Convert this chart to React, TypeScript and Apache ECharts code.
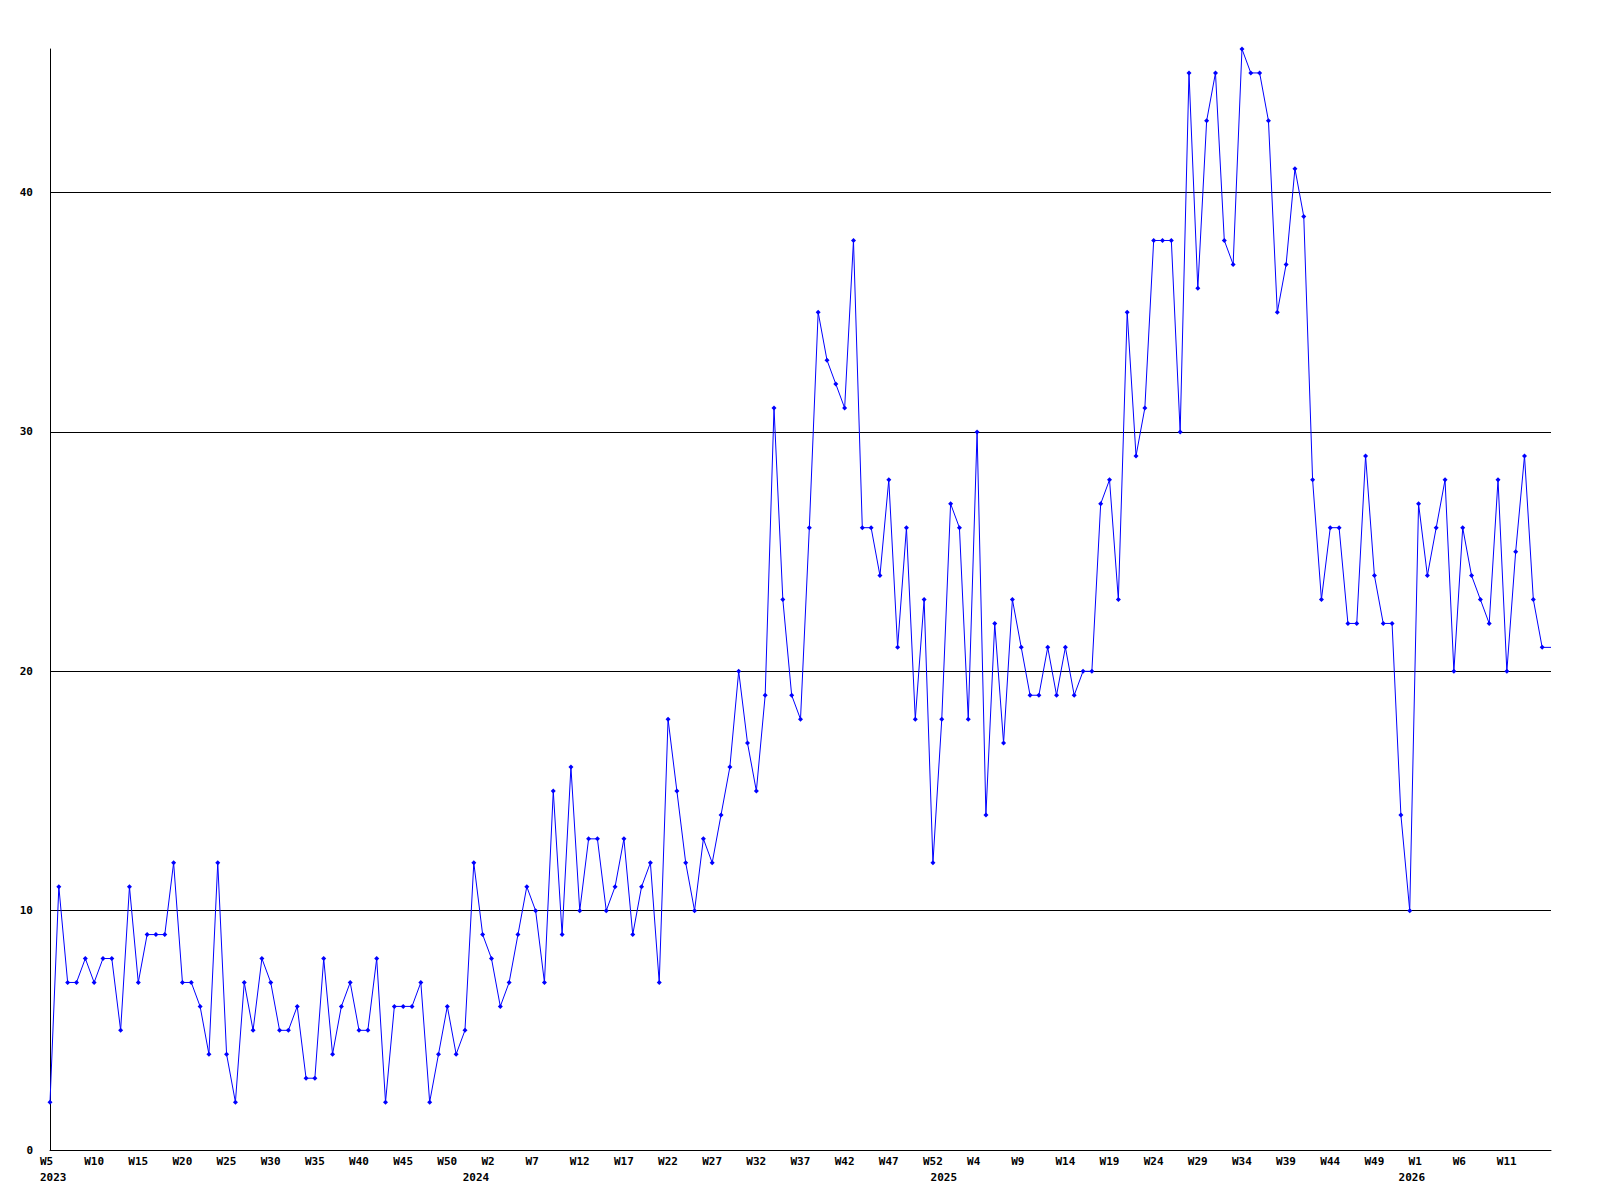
import React, { useEffect, useRef } from "react";
import * as echarts from "echarts";

// Weekly values, per year (week numbers run W1..W53 in this source)
const YEARS = [2023, 2024, 2025, 2026];
const FIRST_WEEK = [5, 1, 1, 1];

const VALUES_2023 = [
  2, 11, 7, 7, 8, 7, 8, 8, 5, 11, 7, 9, 9, 9, 12, 7, 7, 6, 4, 12, 4, 2, 7, 5, 8,
  7, 5, 5, 6, 3, 3, 8, 4, 6, 7, 5, 5, 8, 2, 6, 6, 6, 7, 2, 4, 6, 4, 5, 12,
];
const VALUES_2024 = [
  9, 8, 6, 7, 9, 11, 10, 7, 15, 9, 16, 10, 13, 13, 10, 11, 13, 9, 11, 12, 7, 18,
  15, 12, 10, 13, 12, 14, 16, 20, 17, 15, 19, 31, 23, 19, 18, 26, 35, 33, 32, 31,
  38, 26, 26, 24, 28, 21, 26, 18, 23, 12, 18,
];
const VALUES_2025 = [
  27, 26, 18, 30, 14, 22, 17, 23, 21, 19, 19, 21, 19, 21, 19, 20, 20, 27, 28, 23,
  35, 29, 31, 38, 38, 38, 30, 45, 36, 43, 45, 38, 37, 46, 45, 45, 43, 35, 37, 41,
  39, 28, 23, 26, 26, 22, 22, 29, 24, 22, 22, 14, 10,
];
const VALUES_2026 = [27, 24, 26, 28, 20, 26, 24, 23, 22, 28, 20, 25, 29, 23, 21, 21];

const GRID_LINES = [10, 20, 30, 40];
const Y_MAX = 46;
const Y_STEP = 10;
const LABEL_EVERY = 5;

const FONT = "'DejaVu Sans Mono', 'Liberation Mono', monospace";

export default function App() {
  const ref = useRef<HTMLDivElement>(null);

  useEffect(() => {
    document.body.style.margin = "0";
    const chart = echarts.init(ref.current!, null, { renderer: "svg" });

    const yearly = [VALUES_2023, VALUES_2024, VALUES_2025, VALUES_2026];
    const categories: string[] = [];
    const values: any[] = [];
    yearly.forEach((arr, yi) =>
      arr.forEach((v, i) => {
        categories.push(`W${FIRST_WEEK[yi] + i}|${YEARS[yi]}`);
        values.push(v);
      })
    );
    // last (current, partial) week is drawn without a marker
    const lastIdx = values.length - 1;
    values[lastIdx] = { value: values[lastIdx], symbol: "none" };

    const labelFont = {
      fontFamily: FONT,
      fontWeight: "bold",
      fontSize: 11,
      color: "#000",
    };

    chart.setOption({
      animation: false,
      backgroundColor: "#ffffff",
      grid: {
        left: 50,
        right: 49,
        top: 49,
        bottom: 50,
        containLabel: false,
        outerBoundsMode: "none",
      },
      xAxis: [
        {
          type: "category",
          data: categories,
          boundaryGap: false,
          position: "bottom",
          axisLine: { show: true, lineStyle: { color: "#000", width: 1 } },
          axisTick: { show: false },
          splitLine: { show: false },
          axisLabel: {
            ...labelFont,
            interval: LABEL_EVERY - 1,
            align: "left",
            padding: [0, 0, 0, -10],
            margin: 6,
            formatter: (val: string, idx: number) =>
              idx === lastIdx ? "" : val.split("|")[0],
          },
        },
        {
          type: "category",
          data: categories,
          boundaryGap: false,
          position: "bottom",
          offset: 0,
          axisLine: { show: false },
          axisTick: { show: false },
          splitLine: { show: false },
          axisLabel: {
            ...labelFont,
            interval: (idx: number, val: string) =>
              idx === 0 || val.split("|")[0] === "W1",
            align: "left",
            padding: [0, 0, 0, -20],
            margin: 22,
            formatter: (val: string, idx: number) => {
              const y = val.split("|")[1];
              return idx === 0 ? `{first|${y}}` : `{yr|${y}}`;
            },
            rich: {
              first: { ...labelFont, padding: [0, 0, 0, 10] },
              yr: { ...labelFont },
            },
          },
        },
      ],
      yAxis: {
        type: "value",
        min: 0,
        max: Y_MAX,
        interval: Y_STEP,
        axisLine: { show: true, lineStyle: { color: "#000", width: 1 } },
        axisTick: { show: false },
        splitLine: { show: false },
        axisLabel: {
          ...labelFont,
          showMaxLabel: false,
          margin: 17,
        },
      },
      series: [
        {
          type: "line",
          xAxisIndex: 0,
          data: values,
          symbol: "diamond",
          symbolSize: 5,
          showSymbol: true,
          itemStyle: { color: "#0000ff" },
          lineStyle: { color: "#0000ff", width: 1 },
          markLine: {
            silent: true,
            symbol: ["none", "none"],
            label: { show: false },
            lineStyle: { color: "#000", width: 1, type: "solid" },
            data: GRID_LINES.map((v) => ({ yAxis: v })),
            z: 1,
          },
        },
      ],
    });

    return () => chart.dispose();
  }, []);

  return (
    <div
      ref={ref}
      style={{
        position: "absolute",
        left: 0,
        top: 0,
        width: 1600,
        height: 1200,
        background: "#fff",
      }}
    />
  );
}
